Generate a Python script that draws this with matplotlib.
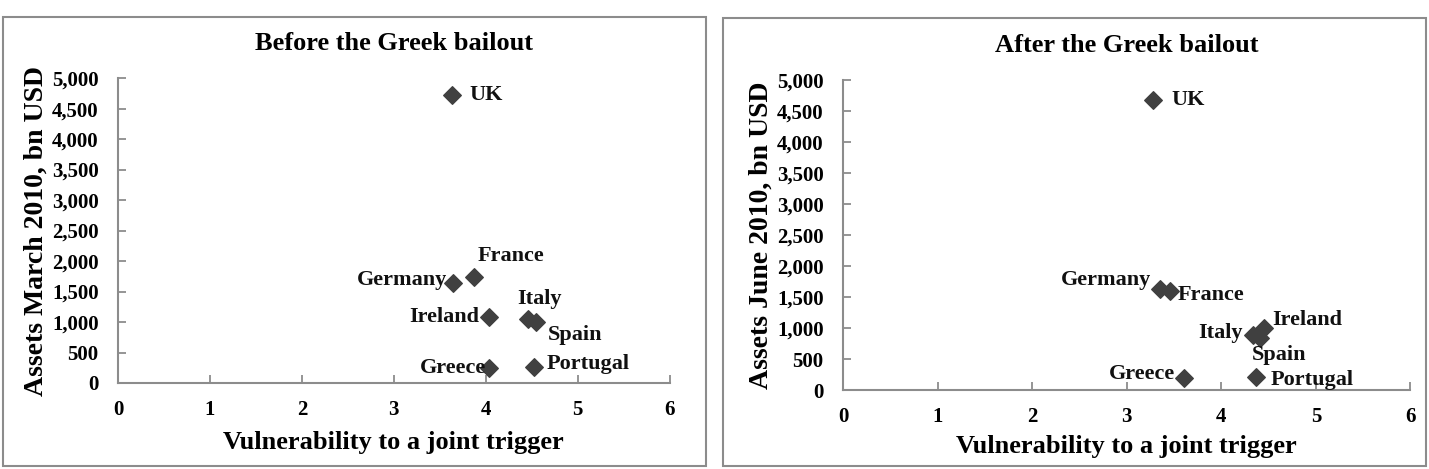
import numpy as np
import matplotlib
matplotlib.use("Agg")
import matplotlib.pyplot as plt
from matplotlib.patches import Rectangle

plt.rcParams['font.family'] = ['Liberation Serif', 'DejaVu Serif']
plt.rcParams['font.weight'] = 'bold'

countries = ['UK', 'Germany', 'France', 'Ireland', 'Italy', 'Spain', 'Greece', 'Portugal']

# before the bailout (March 2010)
vuln_before = [3.63, 3.64, 3.87, 4.03, 4.46, 4.55, 4.03, 4.53]
assets_before = [4730, 1645, 1745, 1085, 1055, 1000, 240, 270]

# after the bailout (June 2010)
vuln_after = [3.28, 3.35, 3.46, 4.45, 4.33, 4.41, 3.61, 4.37]
assets_after = [4680, 1635, 1600, 1000, 890, 835, 190, 205]

yticks = [0, 500, 1000, 1500, 2000, 2500, 3000, 3500, 4000, 4500, 5000]
xticks = [0, 1, 2, 3, 4, 5, 6]

# label offsets in points (dx, dy, ha)
off_before = {'UK': (13, 0, 'left'), 'Germany': (-4, 2, 'right'), 'France': (3, 15, 'left'),
              'Ireland': (-7, 0, 'right'), 'Italy': (-8, 14, 'left'), 'Spain': (8, -9, 'left'),
              'Greece': (-2, 0, 'right'), 'Portugal': (9, 2, 'left')}
off_after = {'UK': (13, 0, 'left'), 'Germany': (-6, 6, 'right'), 'France': (5, -3, 'left'),
             'Ireland': (6, 6, 'left'), 'Italy': (-7, 1, 'right'), 'Spain': (-6, -12, 'left'),
             'Greece': (-7, 3, 'right'), 'Portugal': (10, -2, 'left')}

fig = plt.figure(figsize=(14.29, 4.69), dpi=100)

# panel frames
fig.patches.append(Rectangle((0.002, 0.006), 0.492, 0.958, transform=fig.transFigure,
                             fill=False, edgecolor='#8c8c8c', lw=1.5))
fig.patches.append(Rectangle((0.506, 0.006), 0.492, 0.955, transform=fig.transFigure,
                             fill=False, edgecolor='#8c8c8c', lw=1.5))

ax1 = fig.add_axes([0.0826, 0.1834, 0.386, 0.650])
ax2 = fig.add_axes([0.590, 0.1684, 0.397, 0.661])

panels = [(ax1, vuln_before, assets_before, off_before, 'Before the Greek bailout', 'Assets March 2010, bn USD', 8),
          (ax2, vuln_after, assets_after, off_after, 'After the Greek bailout', 'Assets June 2010, bn USD', 6)]

for ax, xs, ys, offs, title, ylab, xpad in panels:
    ax.scatter(xs, ys, marker='D', s=80, color='#404040', zorder=3)
    ax.scatter(xs, ys, marker='o', s=65, color='#404040', zorder=3)
    for name, x, y in zip(countries, xs, ys):
        dx, dy, ha = offs[name]
        ax.annotate(name, (x, y), xytext=(dx, dy), textcoords='offset points',
                    ha=ha, va='center', fontsize=16, fontweight='bold', color='#111111')
    ax.set_xlim(0, 6)
    ax.set_ylim(0, 5000)
    ax.set_xticks(xticks)
    ax.set_yticks(yticks)
    ax.set_yticklabels([f'{v:,}' for v in yticks])
    for s in ['top', 'right']:
        ax.spines[s].set_visible(False)
    for s in ['left', 'bottom']:
        ax.spines[s].set_color('#8c8c8c')
        ax.spines[s].set_linewidth(1.5)
    ax.tick_params(direction='in', length=6, width=1.3, color='#8c8c8c', labelsize=15)
    ax.tick_params(axis='x', pad=12)
    ax.tick_params(axis='y', pad=14)
    ax.set_title(title, fontsize=19, fontweight='bold', pad=20)
    ax.set_xlabel('Vulnerability to a joint trigger', fontsize=19, fontweight='bold', labelpad=xpad)
    ax.set_ylabel(ylab, fontsize=20, fontweight='bold', labelpad=2)

fig.savefig('out.png', dpi=100)
